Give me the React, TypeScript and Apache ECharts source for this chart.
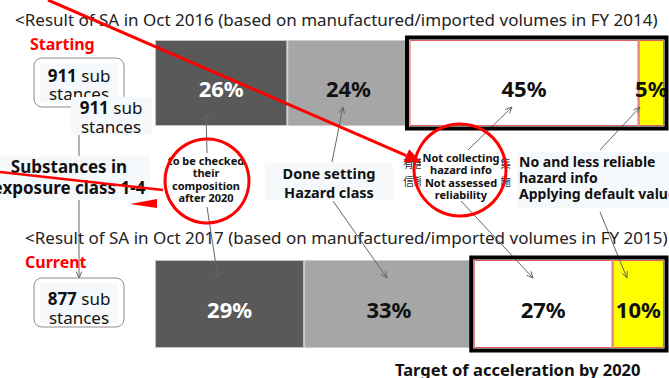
import React, { useEffect, useRef } from 'react';
import * as echarts from 'echarts';

// ---- data ----
const segmentNames = ['To be checked', 'Done setting hazard class', 'Not collecting / not assessed', 'No and less reliable'];
const values2016 = [26, 24, 45, 5];
const values2017 = [29, 33, 27, 10];
const yearCategories = ['Oct 2016', 'Oct 2017'];
const titles = [
  '<Result of SA in Oct 2016 (based on manufactured/imported volumes in FY 2014)',
  '<Result of SA in Oct 2017 (based on manufactured/imported volumes in FY 2015)',
];
const stageLabels = ['Starting', 'Current'];
const substanceCounts = [911, 877];

// ---- styles ----
const FONT = "'Noto Sans', sans-serif";
const segmentColors = ['#595959', '#a6a6a6', '#ffffff', '#ffff00'];
const segmentBorders = ['#c4c4c4', '#cccccc', '#e06060', '#e06060'];
const labelColors = ['#ffffff', '#111111', '#111111', '#111111'];
const gridTops = [40, 260];
const gridHeights = [86, 88];

function arrowLine(x1: number, y1: number, x2: number, y2: number, color = '#666', width = 1, head = 7) {
  const ang = Math.atan2(y2 - y1, x2 - x1);
  const a1 = ang + Math.PI - 0.42;
  const a2 = ang + Math.PI + 0.42;
  return [
    { type: 'line', z: 12, silent: true, shape: { x1, y1, x2, y2 }, style: { stroke: color, lineWidth: width } },
    {
      type: 'polyline', z: 12, silent: true,
      shape: { points: [[x2 + head * Math.cos(a1), y2 + head * Math.sin(a1)], [x2, y2], [x2 + head * Math.cos(a2), y2 + head * Math.sin(a2)]] },
      style: { stroke: color, lineWidth: width, fill: null },
    },
  ];
}

function redArrow(x1: number, y1: number, x2: number, y2: number, width = 3) {
  const ang = Math.atan2(y2 - y1, x2 - x1);
  const back = 16, half = 7;
  const bx = x2 - back * Math.cos(ang), by = y2 - back * Math.sin(ang);
  const px = -Math.sin(ang) * half, py = Math.cos(ang) * half;
  return [
    { type: 'line', z: 100, silent: true, shape: { x1, y1, x2: bx, y2: by }, style: { stroke: '#ff0000', lineWidth: width } },
    { type: 'polygon', z: 100, silent: true, shape: { points: [[x2, y2], [bx + px, by + py], [bx - px, by - py]] }, style: { fill: '#ff0000' } },
  ];
}

function txt(x: number, y: number, text: string, font: string, extra: any = {}) {
  return {
    type: 'text', x, y, z: extra.z ?? 30, silent: true,
    style: { text, font, fill: extra.fill ?? '#111', align: extra.align ?? 'left', verticalAlign: 'middle', lineHeight: extra.lineHeight, rich: extra.rich },
  };
}

function rect(x: number, y: number, w: number, h: number, style: any, z = 25, r = 0) {
  return { type: 'rect', z, silent: true, shape: { x, y, width: w, height: h, r }, style };
}

export default function App() {
  const ref = useRef<HTMLDivElement>(null);
  useEffect(() => {
    document.body.style.margin = '0';
    const chart = echarts.init(ref.current!, null, { renderer: 'svg' });
    const allValues = [values2016, values2017];
    const series: any[] = [];
    allValues.forEach((vals, gi) => {
      vals.forEach((v, si) => {
        series.push({
          type: 'bar', name: segmentNames[si], xAxisIndex: gi, yAxisIndex: gi, stack: 's' + gi,
          barWidth: '100%', silent: true, data: [v],
          itemStyle: { color: segmentColors[si], borderColor: segmentBorders[si], borderWidth: 1 },
          label: {
            show: true, position: 'inside', formatter: '{c}%', color: labelColors[si],
            fontSize: 22, fontWeight: 'bold', fontFamily: FONT, offset: [0, 5],
          },
        });
      });
    });
    chart.setOption({
      animation: false,
      grid: gridTops.map((t, i) => ({ left: 155, right: 5, top: t, height: gridHeights[i] })),
      xAxis: allValues.map((vals, i) => ({ gridIndex: i, type: 'value', min: 0, max: vals.reduce((a, b) => a + b, 0), show: false })),
      yAxis: allValues.map((_, i) => ({ gridIndex: i, type: 'category', data: [yearCategories[i]], show: false })),
      series,
    });

    const px = (gi: number, v: number) => chart.convertToPixel({ xAxisIndex: gi } as any, v) as number;
    const graphic: any[] = [];

    // black frames around the "target" segments
    allValues.forEach((vals, gi) => {
      const start = vals[0] + vals[1];
      const end = vals.reduce((a, b) => a + b, 0);
      const x0 = px(gi, start), x1 = px(gi, end);
      graphic.push(rect(x0 - 2.5, gridTops[gi] - 2.5, x1 - x0 + 5, gridHeights[gi] + 5, { stroke: '#000', lineWidth: 4, fill: null }, 20));
    });

    // titles & stage labels
    graphic.push(txt(15, 19, titles[0], `17px ${FONT}`, { fill: '#222' }));
    graphic.push(txt(25, 237, titles[1], `17px ${FONT}`, { fill: '#222' }));
    graphic.push(txt(30, 44, stageLabels[0], `bold 16px ${FONT}`, { fill: '#ff0000' }));
    graphic.push(txt(25, 262, stageLabels[1], `bold 16px ${FONT}`, { fill: '#ff0000' }));

    const countRich = { b: { font: `bold 17px ${FONT}`, fill: '#111' }, r: { font: `17px ${FONT}`, fill: '#111' } };
    // box 911 (starting)
    graphic.push(rect(34, 58, 90, 49, { stroke: '#8c8c8c', lineWidth: 1, fill: '#fff' }, 22, 8));
    graphic.push(rect(40, 63, 78, 40, { fill: '#f6f9fc' }, 23));
    graphic.push(txt(79, 75, `{b|${substanceCounts[0]}}{r| sub}`, `17px ${FONT}`, { align: 'center', rich: countRich }));
    graphic.push(txt(79, 93, 'stances', `17px ${FONT}`, { align: 'center' }));
    // overlapping label 911
    graphic.push(rect(71, 97, 81, 38, { fill: '#f6f9fc' }, 31));
    graphic.push(txt(111, 107, `{b|${substanceCounts[0]}}{r| sub}`, `17px ${FONT}`, { align: 'center', rich: countRich, z: 32 }));
    graphic.push(txt(111, 126, 'stances', `17px ${FONT}`, { align: 'center', z: 32 }));
    // box 877 (current)
    graphic.push(rect(34, 278, 90, 49, { stroke: '#8c8c8c', lineWidth: 1, fill: '#fff' }, 22, 8));
    graphic.push(rect(40, 283, 78, 40, { fill: '#f6f9fc' }, 23));
    graphic.push(txt(79, 298, `{b|${substanceCounts[1]}}{r| sub}`, `17px ${FONT}`, { align: 'center', rich: countRich }));
    graphic.push(txt(79, 317, 'stances', `17px ${FONT}`, { align: 'center' }));

    // left vertical connector
    graphic.push({ type: 'line', z: 12, silent: true, shape: { x1: 79, y1: 135, x2: 79, y2: 156 }, style: { stroke: '#666', lineWidth: 1 } });
    graphic.push(...arrowLine(79, 200, 79, 278));

    // "Substances in exposure class 1-4"
    graphic.push(rect(0, 156, 150, 44, { fill: '#f6f9fc' }, 24));
    graphic.push(txt(69, 166, 'Substances in', `bold 17px ${FONT}`, { align: 'center' }));
    graphic.push(txt(69, 187, 'exposure class 1-4', `bold 17px ${FONT}`, { align: 'center' }));

    // hidden CJK fragments near circle 2
    graphic.push(txt(403, 163, '有害', `11px 'Noto Sans CJK JP'`, { fill: '#333', z: 26 }));
    graphic.push(txt(403, 181, '信頼', `11px 'Noto Sans CJK JP'`, { fill: '#333', z: 26 }));
    graphic.push(txt(500, 163, '集', `11px 'Noto Sans CJK JP'`, { fill: '#333', z: 26 }));
    graphic.push(txt(500, 181, '施', `11px 'Noto Sans CJK JP'`, { fill: '#333', z: 26 }));

    // connectors to bars
    graphic.push(...arrowLine(207, 153, 206, 114));
    graphic.push(...arrowLine(207, 207, 218, 278));
    graphic.push(...arrowLine(332, 162, 343, 107));
    graphic.push(...arrowLine(333, 201, 387, 278));
    graphic.push(...arrowLine(468, 150, 512, 107));
    graphic.push(...arrowLine(460, 200, 533, 278));
    graphic.push(...arrowLine(600, 150, 640, 107));
    graphic.push(...arrowLine(600, 212, 627, 278));

    // circle 1
    graphic.push(rect(165, 153, 82, 50, { fill: '#ffffff' }, 27));
    graphic.push(txt(206, 179, 'to be checked\ntheir\ncomposition\nafter 2020', `bold 11px ${FONT}`, { align: 'center', lineHeight: 12.3, z: 28 }));
    graphic.push({ type: 'circle', z: 40, silent: true, shape: { cx: 207, cy: 181, r: 42 }, style: { stroke: '#ff0000', lineWidth: 3, fill: null } });

    // circle 2
    graphic.push(rect(421, 151, 80, 50, { fill: '#ffffff' }, 27));
    graphic.push(txt(461, 176, 'Not collecting\nhazard info\nNot assessed\nreliability', `bold 11px ${FONT}`, { align: 'center', lineHeight: 12.5, z: 28 }));
    graphic.push({ type: 'circle', z: 40, silent: true, shape: { cx: 460, cy: 170, r: 46 }, style: { stroke: '#ff0000', lineWidth: 3, fill: null } });

    // Done setting hazard class
    graphic.push(rect(265, 163, 128, 37, { fill: '#f6f9fc' }, 24));
    graphic.push(txt(329, 173, 'Done setting', `bold 14.5px ${FONT}`, { align: 'center' }));
    graphic.push(txt(329, 192, 'Hazard class', `bold 14.5px ${FONT}`, { align: 'center' }));

    // No and less reliable
    graphic.push(rect(517, 152, 152, 56, { fill: '#f6f9fc' }, 24));
    graphic.push(txt(519, 177, 'No and less reliable\nhazard info\nApplying default value', `bold 14px ${FONT}`, { lineHeight: 16 }));

    // target label
    graphic.push(txt(395, 369, 'Target of acceleration by 2020', `bold 16.5px ${FONT}`));

    // red lines
    graphic.push(...redArrow(48, 0, 421, 162, 3));
    graphic.push({ type: 'line', z: 100, silent: true, shape: { x1: 0, y1: 172, x2: 163, y2: 190 }, style: { stroke: '#ff0000', lineWidth: 2.5 } });
    graphic.push({ type: 'polygon', z: 100, silent: true, shape: { points: [[130, 204], [157, 199], [157, 208]] }, style: { fill: '#ff0000' } });

    chart.setOption({ graphic });
    return () => chart.dispose();
  }, []);
  return <div ref={ref} style={{ width: 669, height: 378 }} />;
}
